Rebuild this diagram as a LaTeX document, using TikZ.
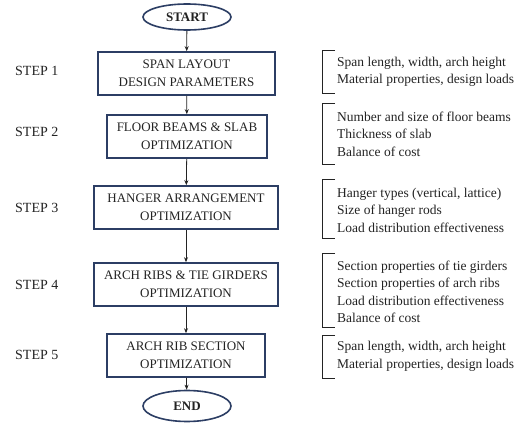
\documentclass[tikz,border=0pt]{standalone}
\usepackage{fontspec}
\setmainfont{Liberation Serif}
\usetikzlibrary{shapes.geometric,arrows.meta}
\definecolor{navy}{RGB}{44,62,100}
\definecolor{ink}{RGB}{35,35,35}
\tikzset{
  term/.style={ellipse,draw=navy,line width=1.6pt,inner sep=0pt,font=\fontsize{13}{15}\selectfont\bfseries,text=ink},
  stepbox/.style={rectangle,draw=navy,line width=1.6pt,minimum height=43pt,inner sep=0pt,align=center,font=\fontsize{13}{18}\selectfont,text=ink},
  steplabel/.style={anchor=west,inner sep=0pt,font=\fontsize{14}{16}\selectfont,text=ink},
  note/.style={anchor=west,inner sep=0pt,align=left,font=\fontsize{13.5}{17.5}\selectfont,text=ink},
  flow/.style={draw=ink,line width=0.8pt,-{Stealth[length=5pt,width=4pt]}},
  brack/.style={draw=ink,line width=1pt}
}
\begin{document}
\begin{tikzpicture}[x=1pt,y=-1pt]
\useasboundingbox (0,0) rectangle (523,428);
% flow nodes
\node[term,minimum width=88pt,minimum height=26pt] (start) at (187,17) {START};
\node[stepbox,minimum width=177pt] (b1) at (186.5,73.5) {SPAN LAYOUT\\DESIGN PARAMETERS};
\node[stepbox,minimum width=160pt] (b2) at (187,136.5) {FLOOR BEAMS \& SLAB\\OPTIMIZATION};
\node[stepbox,minimum width=184pt] (b3) at (186,207.5) {HANGER ARRANGEMENT\\OPTIMIZATION};
\node[stepbox,minimum width=184pt] (b4) at (186,284.5) {ARCH RIBS \& TIE GIRDERS\\OPTIMIZATION};
\node[stepbox,minimum width=158pt] (b5) at (186,355.5) {ARCH RIB SECTION\\OPTIMIZATION};
\node[term,minimum width=88pt,minimum height=31pt] (end) at (187,406) {END};
% connectors
\draw[flow] (start) -- (b1);
\draw[flow] (b1) -- (b2);
\draw[flow] (b2) -- (b3);
\draw[flow] (b3) -- (b4);
\draw[flow] (b4) -- (b5);
\draw[flow] (b5) -- (end);
% step labels
\node[steplabel] (s1) at (15,71) {STEP 1};
\node[steplabel] (s2) at (15,132) {STEP 2};
\node[steplabel] (s3) at (15,208) {STEP 3};
\node[steplabel] (s4) at (15,285) {STEP 4};
\node[steplabel] (s5) at (15,355) {STEP 5};
% brackets
\draw[brack] (335,51) -- (322,51) -- (322,94) -- (335,94);
\draw[brack] (335,104) -- (322,104) -- (322,165) -- (335,165);
\draw[brack] (335,180) -- (322,180) -- (322,238) -- (335,238);
\draw[brack] (335,253) -- (322,253) -- (322,327) -- (335,327);
\draw[brack] (335,335) -- (322,335) -- (322,378) -- (335,378);
% notes
\node[note] (n1) at (337,72) {Span length, width, arch height\\Material properties, design loads};
\node[note] (n2) at (337,134) {Number and size of floor beams\\Thickness of slab\\Balance of cost};
\node[note] (n3) at (337,210) {Hanger types (vertical, lattice)\\Size of hanger rods\\Load distribution effectiveness};
\node[note] (n4) at (337,292) {Section properties of tie girders\\Section properties of arch ribs\\Load distribution effectiveness\\Balance of cost};
\node[note] (n5) at (337,356.5) {Span length, width, arch height\\Material properties, design loads};
\end{tikzpicture}
\end{document}
